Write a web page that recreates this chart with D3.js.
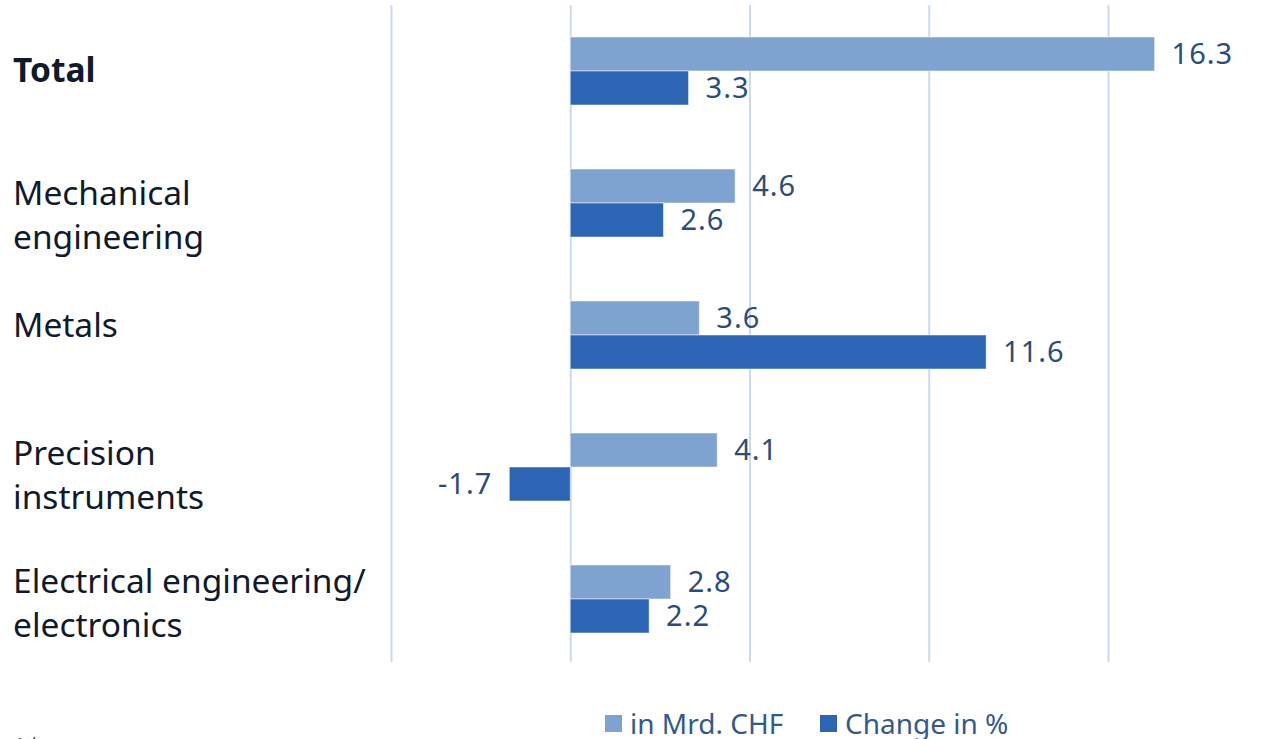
<!DOCTYPE html>
<html>
<head>
<meta charset="utf-8">
<script src="https://cdn.jsdelivr.net/npm/d3@7"></script>
<style>
  body { margin: 0; background: #fff; }
  svg { display: block; font-family: "Noto Sans", "Open Sans", sans-serif; }
  .cat { fill: #0f1a2b; font-size: 33.5px; }
  .cat.total { font-weight: bold; }
  .val { fill: #2c4c7a; font-size: 29px; letter-spacing: 1px; }
  .legend text { fill: #35598a; font-size: 28px; }
  .grid line { stroke: #cbd9ec; stroke-width: 2; }
</style>
</head>
<body>
<div id="chart"></div>
<script>
var categories = ["Total", "Mechanical engineering", "Metals", "Precision instruments", "Electrical engineering/ electronics"];
var catLines = [["Total"], ["Mechanical", "engineering"], ["Metals"], ["Precision", "instruments"], ["Electrical engineering/", "electronics"]];
var valueChf = [16.3, 4.6, 3.6, 4.1, 2.8];
var changePct = [3.3, 2.6, 11.6, -1.7, 2.2];
var seriesNames = ["in Mrd. CHF", "Change in %"];
var gridTicks = [-5, 0, 5, 10, 15];

var width = 1278, height = 739;
var colors = ["#7fa3d1", "#2b65b4"];
// the labels are not quite centred on their rows in the original
var labelShift = [0, 13, -9, 9, 5];

var svg = d3.select("#chart").append("svg")
    .attr("width", width)
    .attr("height", height);

var x = d3.scaleLinear()
    .domain([-5, 15])
    .range([391, 1108]);

var y = d3.scaleBand()
    .domain(categories)
    .range([5, 665]);

var y1 = d3.scaleBand()
    .domain(seriesNames)
    .range([32, 100]);

// vertical grid lines
var grid = svg.append("g")
    .attr("class", "grid")
    .attr("transform", "translate(0,5)")
    .call(d3.axisBottom(x).tickValues(gridTicks).tickSize(657).tickFormat(""));
grid.select(".domain").remove();

var rows = categories.map(function (c, i) {
  return { cat: c, lines: catLines[i], shift: labelShift[i], values: [valueChf[i], changePct[i]] };
});

var groups = svg.selectAll(".row")
    .data(rows)
  .enter().append("g")
    .attr("class", "row")
    .attr("transform", function (d) { return "translate(0," + y(d.cat) + ")"; });

groups.selectAll("rect")
    .data(function (d) { return d.values.map(function (v, k) { return { v: v, k: k }; }); })
  .enter().append("rect")
    .attr("x", function (d) { return x(Math.min(0, d.v)); })
    .attr("y", function (d) { return y1(seriesNames[d.k]); })
    .attr("width", function (d) { return Math.abs(x(d.v) - x(0)); })
    .attr("height", y1.bandwidth())
    .attr("fill", function (d) { return colors[d.k]; })
    .attr("stroke", "#fff")
    .attr("stroke-opacity", 0.5)
    .attr("stroke-width", 1);

groups.selectAll(".val")
    .data(function (d) { return d.values.map(function (v, k) { return { v: v, k: k }; }); })
  .enter().append("text")
    .attr("class", "val")
    .attr("x", function (d) { return d.v < 0 ? x(d.v) - 17 : x(d.v) + 17; })
    .attr("y", function (d) { return y1(seriesNames[d.k]) + y1.bandwidth() / 2; })
    .attr("dy", "0.36em")
    .attr("text-anchor", function (d) { return d.v < 0 ? "end" : "start"; })
    .text(function (d) { return d.v.toFixed(1); });

// category labels
var catText = groups.append("text")
    .attr("class", function (d) { return d.cat == "Total" ? "cat total" : "cat"; });

catText.selectAll("tspan")
    .data(function (d) { return d.lines.map(function (l) { return { line: l, shift: d.shift }; }); })
  .enter().append("tspan")
    .attr("x", 13)
    .attr("y", function (d, i, nodes) {
      var n = nodes.length;
      return y.bandwidth() / 2 + 11 + d.shift + (i - (n - 1) / 2) * 44;
    })
    .text(function (d) { return d.line; });

// legend
var legend = svg.append("g").attr("class", "legend");
var legendX = [605, 820];
var items = legend.selectAll("g")
    .data(seriesNames)
  .enter().append("g")
    .attr("transform", function (d, i) { return "translate(" + legendX[i] + ",715)"; });
items.append("rect")
    .attr("width", 17)
    .attr("height", 17)
    .attr("fill", function (d, i) { return colors[i]; });
items.append("text")
    .attr("x", 25)
    .attr("y", 19)
    .text(function (d) { return d; });

// page number, cut off at the bottom
svg.append("text")
    .attr("x", 12)
    .attr("y", 752)
    .attr("fill", "#555")
    .style("font-size", "20px")
    .text("4 |");
</script>
</body>
</html>
